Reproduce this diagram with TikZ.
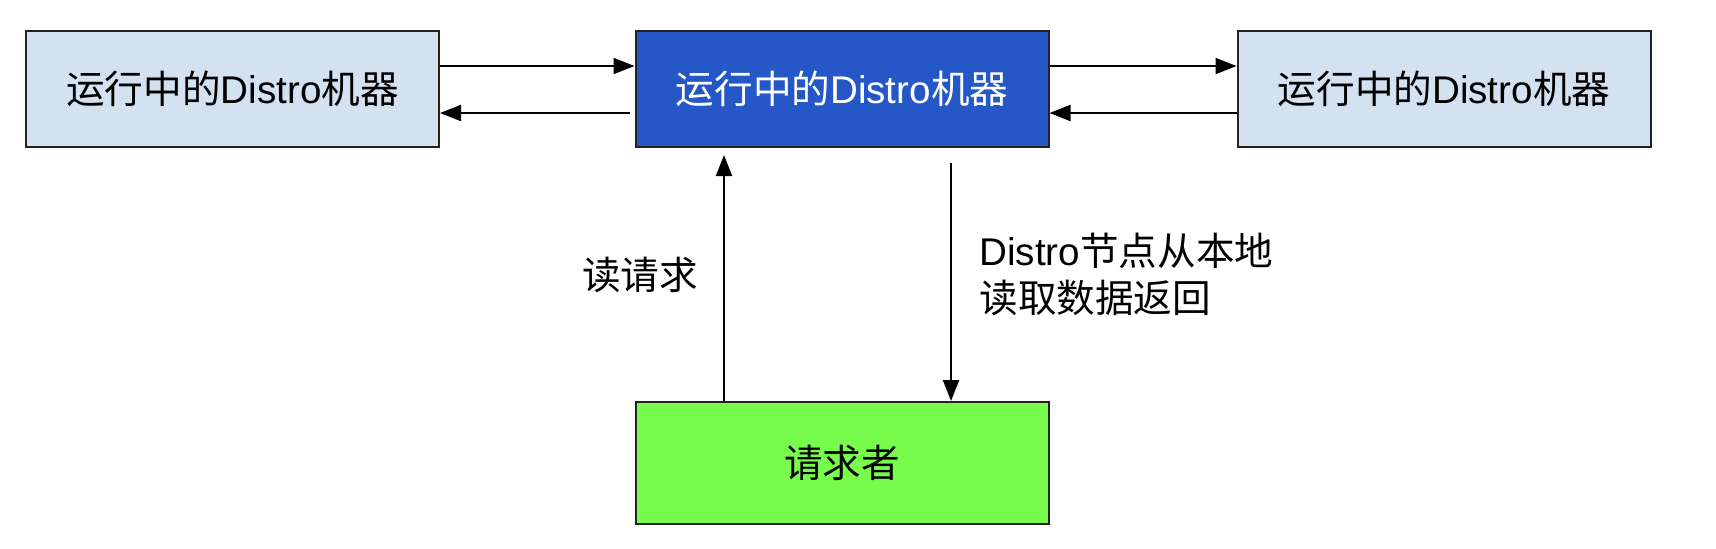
\documentclass[tikz,border=0pt]{standalone}
\usepackage{fontspec}
\setmainfont{Liberation Sans}
\newfontfamily\cjk{Noto Sans CJK SC}
\usetikzlibrary{arrows.meta}
\definecolor{paleblue}{RGB}{212,225,241}
\definecolor{deepblue}{RGB}{37,88,198}
\definecolor{litegreen}{RGB}{119,251,76}
\definecolor{edgegray}{RGB}{34,34,34}
\newcommand{\zh}[1]{{\cjk #1}}
\begin{document}
\begin{tikzpicture}[x=0.5pt,y=-0.5pt,
  machine/.style={draw=edgegray, line width=1pt, minimum width=206.5pt, minimum height=58pt, inner sep=0pt, font=\fontsize{19.3}{23}\selectfont},
  link/.style={draw, line width=1pt, -{Triangle[length=10.5pt,width=8pt]}},
  lbl/.style={font=\fontsize{19.3}{23.5}\selectfont, inner sep=0pt}]
\useasboundingbox[fill=white] (0,0) rectangle (1716,548);
\node[machine, fill=paleblue] (left) at (232.5,89) {\zh{运行中的}Distro\zh{机器}};
\node[machine, fill=deepblue, text=white] (mid) at (842,89) {\zh{运行中的}Distro\zh{机器}};
\node[machine, fill=paleblue] (right) at (1444,89) {\zh{运行中的}Distro\zh{机器}};
\node[machine, fill=litegreen, minimum height=61pt] (req) at (842,463) {\zh{请求者}};
\node[lbl] (readlbl) at (640,275) {\zh{读请求}};
\node[lbl, anchor=west, align=left] (backlbl) at (979,274) {Distro\zh{节点从本地}\\\zh{读取数据返回}};
\path[link] ([yshift=11.5pt]left.east) -- ([yshift=11.5pt]mid.west);
\path[link, shorten <=2.5pt] ([yshift=-12pt]mid.west) -- ([yshift=-12pt]left.east);
\path[link] ([yshift=11.5pt]mid.east) -- ([yshift=11.5pt]right.west);
\path[link] ([yshift=-12pt]right.west) -- ([yshift=-12pt]mid.east);
\path[link, shorten >=3.5pt] ([xshift=-59pt]req.north) -- ([xshift=-59pt]mid.south);
\path[link, shorten <=7.5pt] ([xshift=54.5pt]mid.south) -- ([xshift=54.5pt]req.north);
\end{tikzpicture}
\end{document}
